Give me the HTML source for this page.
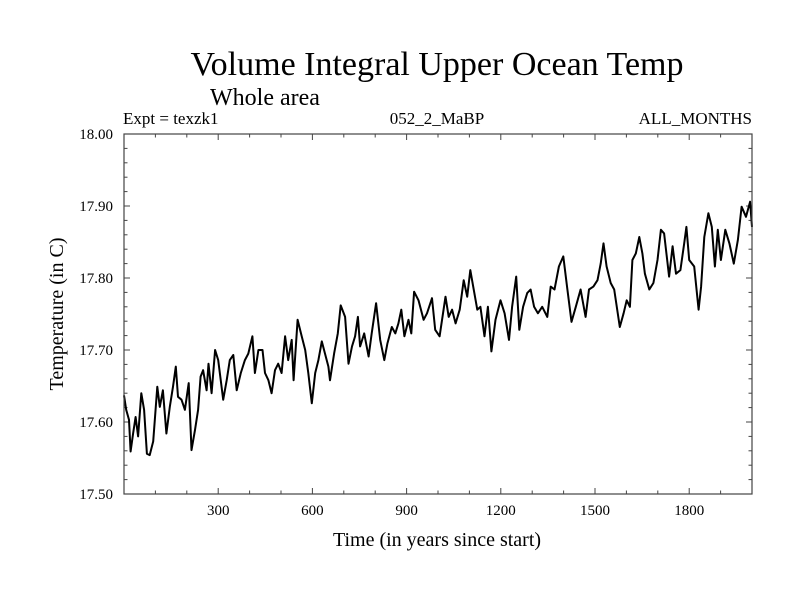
<!DOCTYPE html>
<html><head><meta charset="utf-8"><style>
body{margin:0;background:#fff;}
svg{display:block;font-family:"Liberation Serif",serif;}
</style></head><body>
<svg id="chart" width="800" height="600" viewBox="0 0 800 600">
<text x="437" y="75" font-size="34" text-anchor="middle">Volume Integral Upper Ocean Temp</text>
<text x="265" y="105" font-size="24" text-anchor="middle">Whole area</text>
<text x="123" y="124" font-size="17">Expt = texzk1</text>
<text x="437" y="124" font-size="17" text-anchor="middle">052_2_MaBP</text>
<text x="752" y="124" font-size="17" text-anchor="end">ALL_MONTHS</text>
<text x="437" y="546" font-size="20" text-anchor="middle">Time (in years since start)</text>
<text transform="translate(63,314) rotate(-90)" font-size="20" text-anchor="middle">Temperature (in C)</text>
<g id="axes"></g>
<path id="series" fill="none" stroke="#000" stroke-width="2" stroke-linejoin="round"></path>
<rect x="124" y="134" width="628" height="360" fill="none" stroke="#444" stroke-width="1.2"></rect>
</svg>
<script>
const years=[0,7,16,21,29,37,45,55,64,73,82,93,106,114,124,135,146,156,165,172,183,194,206,215,226,236,244,252,263,269,279,290,300,316,327,337,348,359,372,385,396,409,417,428,441,449,460,470,481,491,502,513,523,534,540,553,566,577,587,598,609,619,630,640,651,656,669,681,690,704,715,726,736,745,752,765,779,789,803,816,829,839,853,864,874,883,893,906,915,924,938,954,965,981,991,1005,1024,1034,1045,1056,1069,1082,1093,1103,1112,1125,1135,1148,1159,1170,1183,1199,1212,1226,1236,1249,1259,1271,1284,1295,1306,1318,1332,1348,1359,1371,1385,1399,1412,1425,1439,1454,1470,1481,1495,1508,1518,1527,1537,1550,1561,1579,1591,1601,1611,1619,1630,1641,1651,1659,1673,1686,1699,1710,1720,1736,1747,1758,1772,1784,1791,1800,1816,1830,1838,1848,1861,1872,1882,1891,1901,1915,1928,1942,1955,1967,1981,1994,2000];
const temps=[17.637,17.617,17.603,17.559,17.584,17.607,17.580,17.640,17.617,17.556,17.554,17.573,17.649,17.621,17.644,17.584,17.621,17.649,17.677,17.635,17.631,17.617,17.654,17.561,17.589,17.617,17.663,17.672,17.644,17.681,17.640,17.700,17.686,17.631,17.658,17.686,17.693,17.644,17.668,17.686,17.695,17.719,17.668,17.700,17.700,17.668,17.658,17.640,17.672,17.681,17.668,17.719,17.686,17.714,17.658,17.742,17.719,17.700,17.668,17.626,17.668,17.686,17.712,17.695,17.677,17.658,17.695,17.723,17.762,17.746,17.681,17.705,17.719,17.746,17.705,17.723,17.691,17.723,17.765,17.714,17.686,17.709,17.732,17.723,17.737,17.756,17.719,17.742,17.723,17.781,17.769,17.742,17.751,17.772,17.728,17.719,17.774,17.746,17.756,17.737,17.756,17.797,17.774,17.811,17.788,17.756,17.760,17.719,17.760,17.698,17.742,17.769,17.751,17.714,17.760,17.802,17.728,17.760,17.779,17.784,17.760,17.751,17.760,17.746,17.788,17.784,17.816,17.830,17.784,17.739,17.760,17.784,17.746,17.784,17.788,17.797,17.820,17.848,17.816,17.793,17.784,17.732,17.751,17.769,17.760,17.825,17.834,17.857,17.834,17.806,17.784,17.793,17.825,17.867,17.862,17.802,17.844,17.806,17.811,17.848,17.871,17.825,17.816,17.756,17.788,17.857,17.890,17.871,17.816,17.867,17.825,17.867,17.848,17.820,17.853,17.899,17.885,17.906,17.871];
const yTickValues=[17.50,17.60,17.70,17.80,17.90,18.00];
const xTickValues=[300,600,900,1200,1500,1800];
const X0=124,X1=752,Y0=494,Y1=134,XMIN=0,XMAX=2000,YMIN=17.5,YMAX=18.0;
const xs=v=>X0+(v-XMIN)/(XMAX-XMIN)*(X1-X0);
const ys=v=>Y0-(v-YMIN)/(YMAX-YMIN)*(Y0-Y1);
const NS="http://www.w3.org/2000/svg";
const axes=document.getElementById('axes');
function mk(tag,attrs){const e=document.createElementNS(NS,tag);for(const k in attrs)e.setAttribute(k,attrs[k]);axes.appendChild(e);return e;}
// minor/major ticks
for(let v=100;v<XMAX;v+=100){
  const x=xs(v),len=(v%300===0)?6:3.5;
  const t1=mk('line',{x1:x,x2:x,y1:Y0,y2:Y0-len,stroke:'#444','stroke-width':1});
  
  
  const t2=mk('line',{x1:x,x2:x,y1:Y1,y2:Y1+len,stroke:'#444','stroke-width':1});
  
  
}
for(let i=1;i<25;i++){
  const v=YMIN+i*0.02,y=ys(v),len=(i%5===0)?6:3.5;
  const t1=mk('line',{x1:X0,x2:X0+len,y1:y,y2:y,stroke:'#444','stroke-width':1});
  
  
  const t2=mk('line',{x1:X1,x2:X1-len,y1:y,y2:y,stroke:'#444','stroke-width':1});
  
  
}
xTickValues.forEach(v=>{
  const t=mk('text',{x:xs(v),y:Y0+21,'font-size':15,'text-anchor':'middle'});
  t.textContent=String(v);
  
  
});
yTickValues.forEach(v=>{
  const t=mk('text',{x:113,y:ys(v)+5,'font-size':15,'text-anchor':'end'});
  t.textContent=v.toFixed(2);
  
  
});
document.getElementById('series').setAttribute('d',years.map((yr,i)=>(i?'L':'M')+xs(yr).toFixed(1)+','+ys(temps[i]).toFixed(1)).join(''));
</script>
</body></html>
